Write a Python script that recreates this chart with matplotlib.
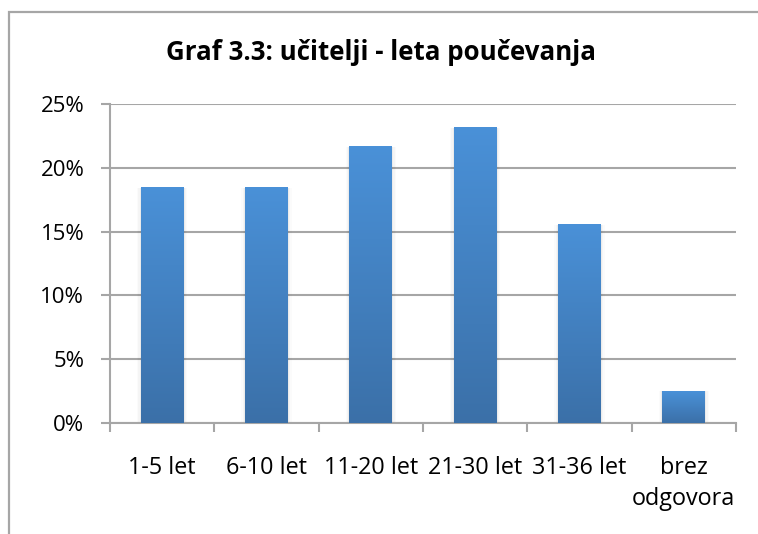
import numpy as np
import matplotlib.pyplot as plt
from matplotlib.patches import Rectangle
from matplotlib.colors import LinearSegmentedColormap
from matplotlib.ticker import PercentFormatter

categories = ["1-5 let", "6-10 let", "11-20 let", "21-30 let", "31-36 let", "brez\nodgovora"]
shares = [0.185, 0.185, 0.217, 0.232, 0.156, 0.025]
yticks = [0, 0.05, 0.10, 0.15, 0.20, 0.25]
title = "Graf 3.3: učitelji - leta poučevanja"

plt.rcParams['font.family'] = ['Open Sans', 'DejaVu Sans']
grid_col = "#A6A6A6"

fig = plt.figure(figsize=(7.58, 5.34), dpi=100)
ax = fig.add_axes([110 / 758, 1 - 423 / 534, 626 / 758, 319 / 534])

# outer chart frame (cut off on the right and bottom in the original)
fig.patches.append(Rectangle((9 / 758, -0.05), 1.0, 1 - 12 / 534 + 0.05,
                             transform=fig.transFigure, fill=False,
                             edgecolor=grid_col, linewidth=1.6))

x = np.arange(len(categories))
bars = ax.bar(x, shares, width=0.41, color="#4383C6", zorder=3)

# gradient fill, light at top, darker at bottom
cmap = LinearSegmentedColormap.from_list("bar", ["#3B70A8", "#4A91D8"])
grad = np.linspace(0, 1, 256).reshape(-1, 1)
for b in bars:
    x0, w, h = b.get_x(), b.get_width(), b.get_height()
    # soft shadow at the sides
    for k, a in enumerate([0.04, 0.025, 0.015]):
        ax.add_patch(Rectangle((x0 - 0.012 * (k + 1), 0), w + 0.024 * (k + 1), h * 0.995,
                               facecolor="black", alpha=a, linewidth=0, zorder=2))
    im = ax.imshow(grad, cmap=cmap, aspect="auto", origin="lower",
                   extent=(x0, x0 + w, 0, h), zorder=4)
    im.set_clip_path(b)

ax.set_xlim(-0.5, len(categories) - 0.5)
ax.set_ylim(0, 0.25)
ax.set_yticks(yticks)
ax.yaxis.set_major_formatter(PercentFormatter(1.0, decimals=0))
ax.set_xticks(x)
ax.set_xticklabels(categories, fontsize=16.8, linespacing=1.36)
ax.set_xticks(np.arange(len(categories) + 1) - 0.5, minor=True)
ax.tick_params(axis="x", which="major", length=0, pad=24)
ax.tick_params(axis="x", which="minor", length=6.5, width=1.5, color=grid_col)
ax.tick_params(axis="y", length=6.5, width=1.5, color=grid_col, pad=12, labelsize=16)

ax.grid(axis="y", color=grid_col, linewidth=1.5, zorder=0)
ax.set_axisbelow(True)
for s in ["top", "right"]:
    ax.spines[s].set_visible(False)
for s in ["left", "bottom"]:
    ax.spines[s].set_color(grid_col)
    ax.spines[s].set_linewidth(1.5)

fig.text(381 / 758, 1 - 53 / 534, title, ha="center", va="center",
         fontsize=18.6, fontweight="bold")

fig.savefig("out.png", dpi=100)
